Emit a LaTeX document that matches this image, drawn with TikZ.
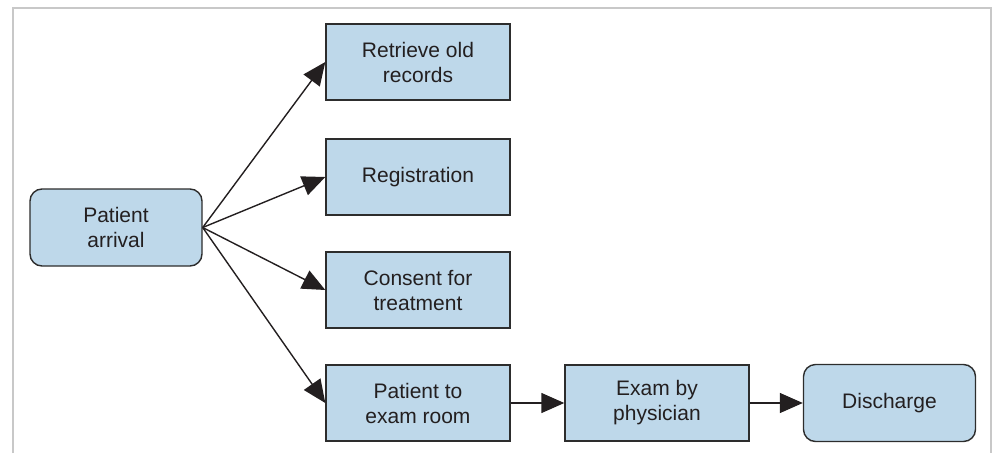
\documentclass[tikz,border=0pt]{standalone}
\usepackage{fontspec}
\setmainfont{Liberation Sans}
\usetikzlibrary{arrows.meta}
\definecolor{boxfill}{RGB}{190,216,234}
\definecolor{boxline}{RGB}{45,45,45}
\definecolor{frameg}{RGB}{200,200,200}
\definecolor{txt}{RGB}{35,31,32}
\begin{document}
\begin{tikzpicture}[x=1pt,y=-1pt,
  box/.style={draw=boxline, line width=1.4pt, fill=boxfill, minimum width=184pt, minimum height=76pt,
    align=center, font=\fontsize{21}{25}\selectfont, text=txt, inner sep=0pt},
  rbox/.style={box, rounded corners=12pt, minimum width=172pt, minimum height=77pt},
  arr/.style={draw=txt, line width=1.4pt, -{Triangle[length=23pt,width=20pt]}},
  framestyle/.style={draw=frameg, line width=2pt}]
\useasboundingbox (0,0) rectangle (993,453);
\draw[framestyle] (13,453) -- (13,8) -- (991,8) -- (991,453);
\node[rbox] (arrival) at (116,227.5) {Patient\\arrival};
\node[box] (retrieve) at (418,62) {Retrieve old\\records};
\node[box] (registration) at (418,177) {Registration};
\node[box] (consent) at (418,290) {Consent for\\treatment};
\node[box] (examroom) at (418,403) {Patient to\\exam room};
\node[box] (exam) at (657,403) {Exam by\\physician};
\node[rbox] (discharge) at (889.5,403) {Discharge};
\draw[arr] (arrival.east) -- (retrieve.west);
\draw[arr] (arrival.east) -- (registration.west);
\draw[arr] (arrival.east) -- (consent.west);
\draw[arr] (arrival.east) -- (examroom.west);
\draw[arr] (examroom.east) -- (exam.west);
\draw[arr] (exam.east) -- (discharge.west);
\end{tikzpicture}
\end{document}
